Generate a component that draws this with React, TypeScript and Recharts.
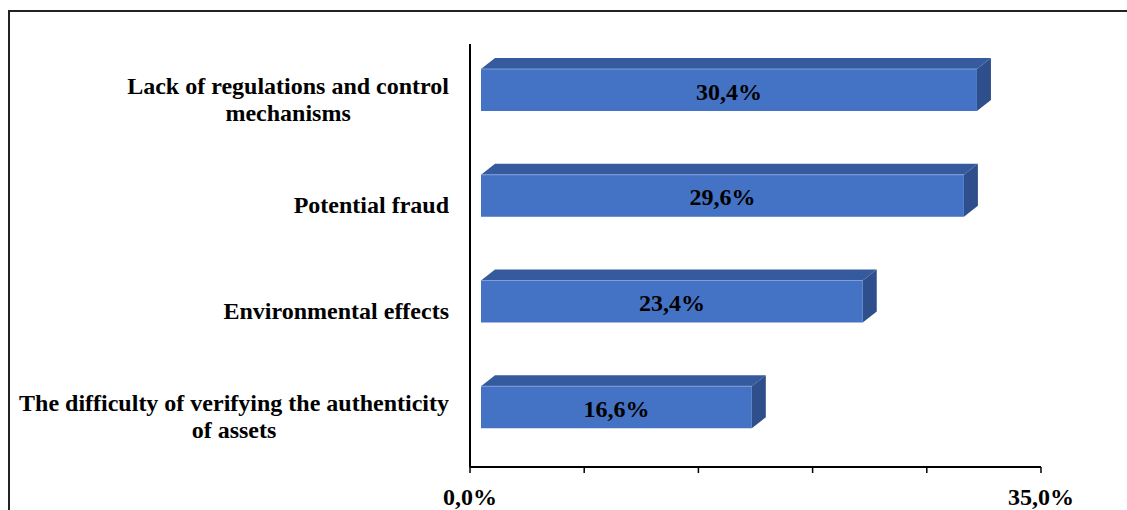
import { BarChart, Bar, XAxis, YAxis, LabelList } from "recharts"

const categories = [
  "Lack of regulations and control\nmechanisms",
  "Potential fraud",
  "Environmental effects",
  "The difficulty of verifying the authenticity\nof assets",
]
const shares = [30.4, 29.6, 23.4, 16.6]
const xTicks = [0, 7, 14, 21, 28, 35]
const shownTicks = [0, 35]

const data = categories.map((name, i) => ({ name, value: shares[i] }))

const FONT = "'Liberation Serif', 'Times New Roman', serif"
const FRONT = "#4472C4"
const TOP = "#355B9E"
const SIDE = "#2E4F8B"

// excel-ish 3d bar: front face pushed right of the axis, depth going up-right
const DX = 14
const DY = 11
const INSET = 11
const LIFT = 7

const Bar3D = (props: any) => {
  const { x, y, width, height } = props
  if (!width) return null
  const fx = x + INSET
  const fy = y - LIFT
  const r = fx + width
  return (
    <g>
      <polygon
        points={`${fx},${fy} ${fx + DX},${fy - DY} ${r + DX},${fy - DY} ${r},${fy}`}
        fill={TOP}
      />
      <polygon
        points={`${r},${fy} ${r + DX},${fy - DY} ${r + DX},${fy + height - DY} ${r},${fy + height}`}
        fill={SIDE}
      />
      <rect x={fx} y={fy} width={width} height={height} fill={FRONT} />
      <line x1={fx} y1={fy} x2={r} y2={fy} stroke="#7f9fd8" strokeWidth={1} />
    </g>
  )
}

const ValueLabel = (props: any) => {
  const { x, y, width, height, value } = props
  const cx = x + INSET + width / 2
  const cy = y - LIFT + height / 2
  return (
    <text
      x={cx}
      y={cy + 9.5}
      textAnchor="middle"
      fontFamily={FONT}
      fontWeight="bold"
      fontSize={24}
      fill="#000"
    >
      {value.toFixed(1).replace(".", ",") + "%"}
    </text>
  )
}

const CategoryTick = (props: any) => {
  const { y, payload } = props
  return (
    <foreignObject x={0} y={y - 42} width={449} height={90}>
      <div
        style={{
          display: "flex",
          justifyContent: "flex-end",
          alignItems: "center",
          height: "100%",
        }}
      >
        <div
          style={{
            textAlign: "center",
            whiteSpace: "pre-line",
            fontFamily: FONT,
            fontWeight: "bold",
            fontSize: 24,
            lineHeight: "27px",
            color: "#000",
          }}
        >
          {payload.value}
        </div>
      </div>
    </foreignObject>
  )
}

const PercentTick = (props: any) => {
  const { x, y, payload } = props
  if (!shownTicks.includes(payload.value)) return null
  return (
    <text
      x={x}
      y={y + 30}
      textAnchor="middle"
      fontFamily={FONT}
      fontWeight="bold"
      fontSize={24}
      fill="#000"
    >
      {payload.value.toFixed(1).replace(".", ",") + "%"}
    </text>
  )
}

export default function App() {
  return (
    <div style={{ position: "absolute", left: 0, top: 0, width: 1127, height: 510, background: "#fff", overflow: "hidden" }}>
      <div
        style={{
          position: "absolute",
          left: 8,
          top: 10,
          width: 1300,
          height: 700,
          borderTop: "2px solid #222",
          borderLeft: "2px solid #222",
        }}
      />
      <div style={{ position: "absolute", left: 0, top: 0 }}>
        <BarChart
          width={1127}
          height={510}
          data={data}
          layout="vertical"
          barSize={42}
          margin={{ top: 44, right: 86, bottom: 3, left: 0 }}
        >
          <XAxis
            type="number"
            domain={[0, 35]}
            ticks={xTicks}
            height={40}
            axisLine={{ stroke: "#000", strokeWidth: 2 }}
            tickLine={{ stroke: "#000", strokeWidth: 1.5 }}
            tickSize={6}
            tick={<PercentTick />}
            interval={0}
          />
          <YAxis
            type="category"
            dataKey="name"
            width={470}
            axisLine={{ stroke: "#000", strokeWidth: 2 }}
            tickLine={false}
            tick={<CategoryTick />}
            interval={0}
          />
          <Bar dataKey="value" shape={<Bar3D />} isAnimationActive={false}>
            <LabelList dataKey="value" content={<ValueLabel />} />
          </Bar>
        </BarChart>
      </div>
    </div>
  )
}
